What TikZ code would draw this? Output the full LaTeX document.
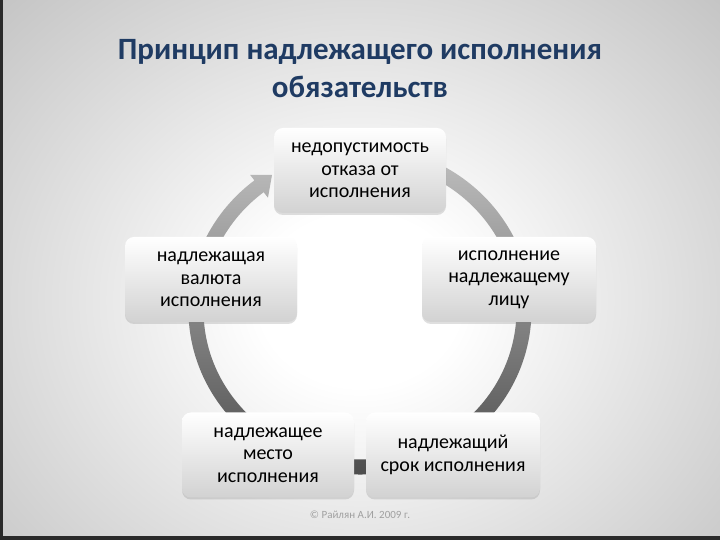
\documentclass[tikz,border=0pt]{standalone}
\usepackage{fontspec}
\setmainfont{Carlito}
\usepackage{tikz}
\usetikzlibrary{calc,shadows}
\definecolor{titleblue}{HTML}{1F3B63}
\definecolor{bgmid}{HTML}{DADADA}
\definecolor{bgedge}{HTML}{A8A8A8}
\definecolor{bgcorner}{HTML}{8A8A8A}
\definecolor{framedark}{HTML}{2A2A2A}
\definecolor{ringtop}{HTML}{C0C0C0}
\definecolor{ringbot}{HTML}{484848}
\definecolor{boxbot}{HTML}{D2D2D2}
\definecolor{notegray}{HTML}{A0A0A0}
\pgfdeclareradialshading{bgshade}{\pgfpoint{0bp}{0bp}}{color(0bp)=(white); color(6bp)=(white); color(21bp)=(bgmid); color(42bp)=(bgedge); color(62bp)=(bgcorner)}

\begin{document}
\begin{tikzpicture}[x=1pt,y=1pt,
cyclebox/.style={rounded corners=9pt, minimum width=172pt, minimum height=85pt,
  top color=white, bottom color=boxbot, align=center,
  font=\fontsize{20}{22.5}\selectfont,
  drop shadow={shadow xshift=0pt, shadow yshift=-2pt, opacity=0.25}}]
\useasboundingbox (0,0) rectangle (720,540);
\begin{scope}
\clip (0,0) rectangle (720,540);
\shade[shading=bgshade] (-60,-120) rectangle (780,600);
\end{scope}
\fill[framedark] (0,0) rectangle (3,540);
\fill[framedark] (0,0) rectangle (720,4);

\node (title) at (360,471) [font=\fontsize{31}{38}\selectfont\bfseries, text=titleblue, align=center] {Принцип надлежащего исполнения\\обязательств};

\coordinate (rc) at (360,230);
\coordinate (tip) at (272,365);
\shade[top color=ringtop, bottom color=ringbot]
  ($(rc)+(80:171.5 and 164.5)$) arc[start angle=80, end angle=-232, x radius=171.5, y radius=164.5]
  -- ($(rc)+(128:178.5 and 171.5)$) -- (tip) -- ($(rc)+(128:149.5 and 142.5)$)
  -- ($(rc)+(128:156.5 and 149.5)$) arc[start angle=-232, end angle=80, x radius=156.5, y radius=149.5] -- cycle;

\node (v1) at (360,369.5) [cyclebox] {недопустимость\\отказа от\\исполнения};
\node (v2) at (509,260.5) [cyclebox, minimum width=174pt] {исполнение\\надлежащему\\лицу};
\node (v3) at (453,85) [cyclebox, minimum width=174pt] {надлежащий\\срок исполнения};
\node (v4) at (268,85) [cyclebox] {надлежащее\\место\\исполнения};
\node (v5) at (211,260.5) [cyclebox] {надлежащая\\валюта\\исполнения};

\node (note) at (360,25) [font=\fontsize{11}{12}\selectfont, text=notegray] {© Райлян А.И. 2009 г.};
\end{tikzpicture}
\end{document}
